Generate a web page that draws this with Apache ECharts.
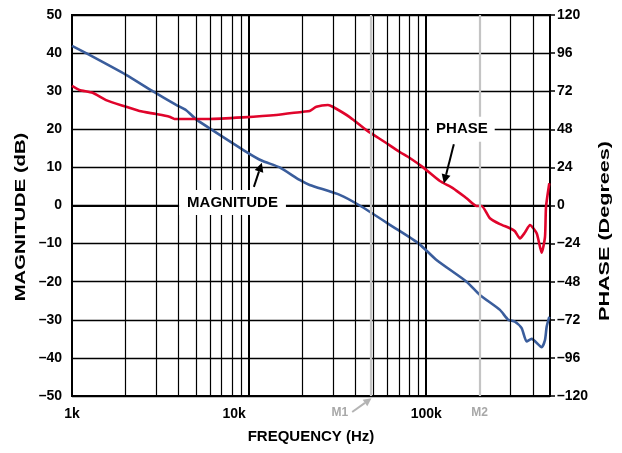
<!DOCTYPE html>
<html><head><meta charset="utf-8">
<script src="https://cdn.jsdelivr.net/npm/echarts@6/dist/echarts.min.js"></script>
<style>html,body{margin:0;padding:0;background:#fff}#c{width:622px;height:453px}</style>
</head><body><div id="c"></div>
<script>
// ---- data ----
const magFreq = [1000, 1200, 2020, 2856, 3874, 4412, 5025, 6109, 9636, 11760, 14870, 19290, 21970, 32470, 42120, 65000, 90830, 114300, 169000, 200900, 260800, 290500, 317000, 345800, 369100, 393900, 448700, 468500, 478800, 495500];
const magDb = [41.9, 40.0, 34.3, 30.0, 26.4, 25.0, 22.6, 20.0, 14.1, 11.8, 10.0, 6.7, 5.4, 2.8, 0.0, -5.6, -10.0, -14.3, -20.0, -23.5, -27.4, -30.0, -30.5, -32.2, -35.7, -35.0, -37.2, -35.3, -31.8, -29.2];
const phaseFreq = [1000, 1100, 1308, 1557, 2020, 2403, 2985, 3550, 3790, 5975, 9220, 14240, 20140, 21970, 23970, 27880, 29640, 36980, 45970, 58300, 70900, 80800, 96050, 119400, 141400, 169000, 192500, 205400, 228900, 260800, 297000, 317000, 338200, 361000, 385300, 420500, 448700, 468500, 474700, 495500];
const phaseDeg = [75.3, 72.8, 71.0, 66.4, 62.2, 59.5, 57.6, 55.9, 54.5, 54.5, 55.5, 57.0, 59.1, 59.5, 62.2, 63.3, 62.2, 55.7, 47.5, 40.0, 33.7, 29.9, 24.0, 15.4, 11.0, 4.6, -0.3, -0.3, -8.0, -11.7, -14.3, -16.2, -20.7, -17.0, -12.3, -17.5, -29.7, -19.8, -1.0, 14.0];
const xTickLabels = {1000: '1k', 10000: '{s|10k}', 100000: '100k'};
const minorGridFreqs = [2000, 3000, 4000, 5000, 6000, 7000, 8000, 9000, 20000, 30000, 40000, 50000, 60000, 70000, 80000, 90000, 300000, 400000];
const markerNames = ['M1', 'M2'];
const markerFreqs = [48500, 200000];
// annotation anchors (data coordinates: Hz, dB)
const magLabelAt = [8060, 0.8];
const magArrow = [[10640, 4.9], [11800, 11.2]];
const phaseLabelAt = [159000, 20];
const phaseArrow = [[143200, 16.1], [125800, 5.8]];
const m1LabelAt = [32500, -54.4];
const m1Arrow = [[38200, -54.2], [49100, -50.6]];
const m2LabelAt = [200000, -54.3];
const yNames = ['MAGNITUDE (dB)', 'PHASE (Degrees)'];

const FONT = '"Liberation Sans", Arial, Helvetica, sans-serif';
const dash = v => String(v).replace('-', '\u2013');

const chart = echarts.init(document.getElementById('c'), null, {renderer: 'canvas'});
const option = {
  animation: false,
  textStyle: {fontFamily: FONT},
  grid: {left: 72, right: 72, top: 15, bottom: 57, show: true, borderColor: '#000', borderWidth: 2,
         containLabel: false, outerBoundsMode: 'none'},
  xAxis: {
    type: 'log', logBase: 10, min: 1000, max: 500000, interval: 1,
    axisLine: {show: true, lineStyle: {color: '#000', width: 2}},
    axisTick: {show: false},
    axisLabel: {color: '#000', fontSize: 14, fontWeight: 'bold', fontFamily: FONT, margin: 11,
                showMinLabel: true, showMaxLabel: true,
                rich: {s: {color: '#000', fontSize: 14, fontWeight: 'bold', fontFamily: FONT, padding: [0, 30, 0, 0]}},
                formatter: v => xTickLabels[Math.round(v)] || ''},
    splitLine: {show: true, lineStyle: {color: '#000', width: 2}},
    name: 'FREQUENCY (Hz)', nameLocation: 'middle', nameGap: 33,
    nameTextStyle: {color: '#000', fontSize: 15, fontWeight: 'bold', fontFamily: FONT}
  },
  yAxis: [{
    type: 'value', min: -50, max: 50, interval: 10, position: 'left',
    axisLine: {show: true, lineStyle: {color: '#000', width: 2}},
    axisTick: {show: false},
    axisLabel: {color: '#000', fontSize: 14, fontWeight: 'bold', fontFamily: FONT, margin: 10, formatter: dash},
    splitLine: {show: true, lineStyle: {color: '#000', width: 1.3}}
  }, {
    type: 'value', min: -120, max: 120, interval: 24, position: 'right',
    axisLine: {show: true, lineStyle: {color: '#000', width: 2}},
    axisTick: {show: true, inside: false, length: 5, lineStyle: {color: '#000', width: 1.5}},
    axisLabel: {color: '#000', fontSize: 14, fontWeight: 'bold', fontFamily: FONT, margin: 7, formatter: dash},
    splitLine: {show: false}
  }],
  series: [{
    type: 'line', name: 'grid', data: [], z: 1, silent: true,
    markLine: {
      silent: true, symbol: ['none', 'none'], animation: false, label: {show: false},
      emphasis: {disabled: true},
      data: minorGridFreqs.map(f => ({xAxis: f, lineStyle: {color: '#000', width: 1.2, type: 'solid'}}))
        .concat(markerFreqs.map(f => ({xAxis: f, lineStyle: {color: '#c4c4c4', width: 2.2, type: 'solid'}})))
    }
  }, {
    type: 'line', name: 'MAGNITUDE', yAxisIndex: 0, z: 3,
    data: magFreq.map((f, i) => [f, magDb[i]]),
    showSymbol: false, symbol: 'none', smooth: 0.2,
    lineStyle: {color: '#3A5D9C', width: 2.6}
  }, {
    type: 'line', name: 'PHASE', yAxisIndex: 1, z: 3,
    data: phaseFreq.map((f, i) => [f, phaseDeg[i]]),
    showSymbol: false, symbol: 'none', smooth: 0.2,
    lineStyle: {color: '#E0042B', width: 2.6}
  }]
};
chart.setOption(option);

const P = d => chart.convertToPixel({xAxisIndex: 0, yAxisIndex: 0}, d);
function arrow(a, b, color, w, hl, hw) {
  const dx = b[0] - a[0], dy = b[1] - a[1], L = Math.hypot(dx, dy), ux = dx / L, uy = dy / L;
  const bx = b[0] - ux * hl, by = b[1] - uy * hl;
  return [
    {type: 'line', z: 100, silent: true, shape: {x1: a[0], y1: a[1], x2: bx, y2: by}, style: {stroke: color, lineWidth: w}},
    {type: 'polygon', z: 100, silent: true, shape: {points: [[b[0], b[1]], [bx - uy * hw, by + ux * hw], [bx + uy * hw, by - ux * hw]]}, style: {fill: color}}
  ];
}
function label(d, text, size, color, bg, pad) {
  const p = P(d);
  return {type: 'text', z: 100, silent: true, x: p[0], y: p[1],
    style: {text: text, font: 'bold ' + size + 'px ' + FONT, fill: color, align: 'center', verticalAlign: 'middle',
            backgroundColor: bg, padding: pad}};
}
// rotated y-axis titles (stretched along their length, as in the reference)
function yTitle(text, x, y, sx, sy) {
  return {type: 'text', z: 100, silent: true, x: x, y: y, rotation: Math.PI / 2, scaleX: sx, scaleY: sy,
    style: {text: text, font: 'bold 15px ' + FONT, fill: '#000', align: 'center', verticalAlign: 'middle'}};
}
const elems = [
  yTitle(yNames[0], 21, 217, 1.35, 1.0),
  yTitle(yNames[1], 605, 231, 1.44, 1.0),
  label(magLabelAt, 'MAGNITUDE', 15, '#000', '#fff', [5, 8]),
  label(phaseLabelAt, 'PHASE', 15, '#000', '#fff', [5, 7]),
  label(m1LabelAt, markerNames[0], 12, '#a8a8a8', null, 0),
  label(m2LabelAt, markerNames[1], 12, '#a8a8a8', null, 0)
].concat(arrow(P(magArrow[0]), P(magArrow[1]), '#000', 2, 9, 4.5))
 .concat(arrow(P(phaseArrow[0]), P(phaseArrow[1]), '#000', 2, 9, 4.5))
 .concat(arrow(P(m1Arrow[0]), P(m1Arrow[1]), '#b4b4b4', 2, 8, 4));
chart.setOption({graphic: {elements: elems}});
</script>
</body></html>
